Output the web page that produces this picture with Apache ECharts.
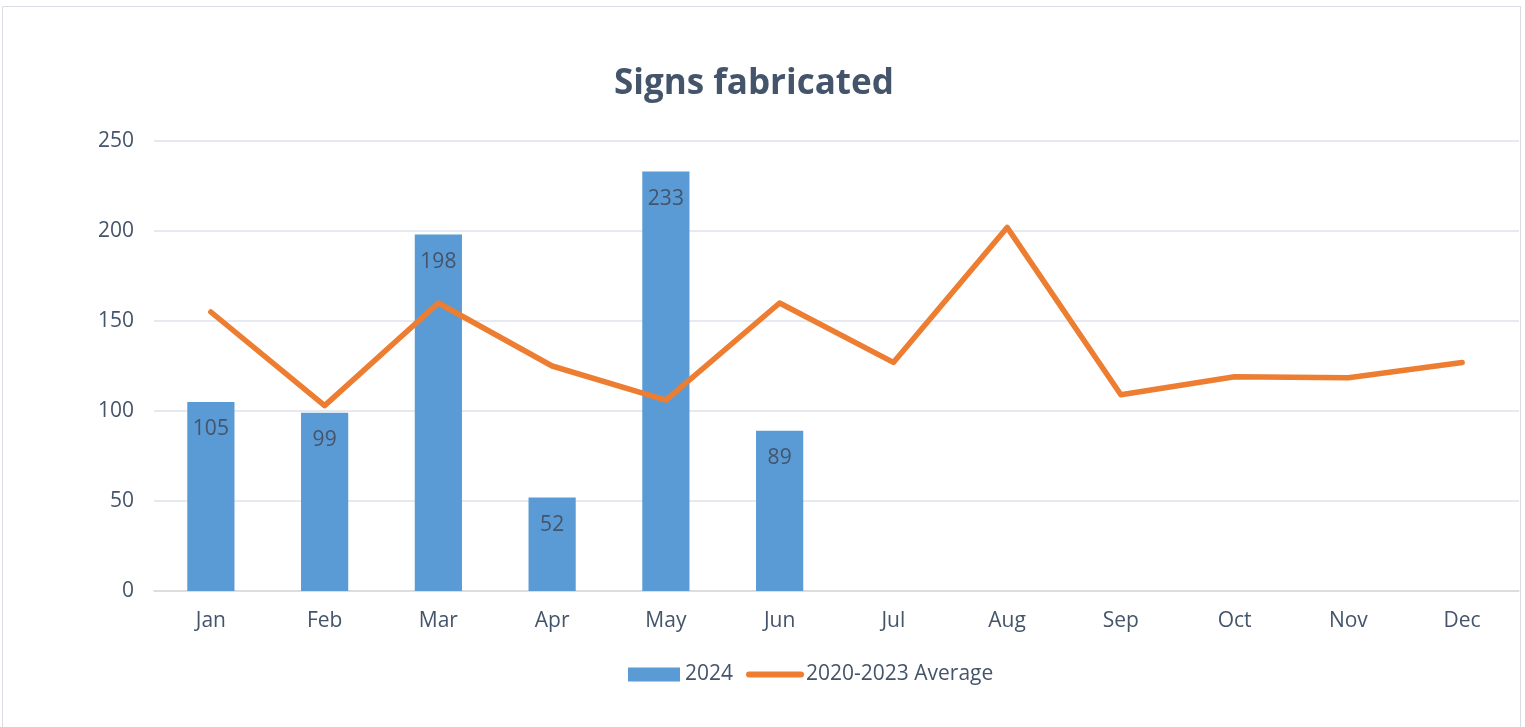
<!DOCTYPE html>
<html>
<head>
<meta charset="utf-8">
<script src="https://cdn.jsdelivr.net/npm/echarts@6/dist/echarts.min.js"></script>
<style>html,body{margin:0;padding:0;background:#fff}#c{width:1525px;height:727px}</style>
</head>
<body>
<div id="c"></div>
<script>
const categories = ['Jan','Feb','Mar','Apr','May','Jun','Jul','Aug','Sep','Oct','Nov','Dec'];
const values2024 = [105, 99, 198, 52, 233, 89];
const avg2020_2023 = [155, 103, 160, 125, 106, 160, 127, 202, 109, 119, 118.5, 127];
const yTicks = [0, 50, 100, 150, 200, 250];
const seriesNames = ['2024', '2020-2023 Average'];
const titleText = 'Signs fabricated';

const FONT = 'Open Sans';
const TXT = '#44546a';
const chart = echarts.init(document.getElementById('c'), null, {renderer: 'canvas'});
chart.setOption({
  animation: false,
  backgroundColor: '#fff',
  textStyle: {fontFamily: FONT},
  graphic: [{
    type: 'rect', shape: {x: 2.5, y: 6.5, width: 1518, height: 740},
    style: {fill: 'none', stroke: '#d9dde3', lineWidth: 1}, silent: true, z: -1
  }],
  title: {
    text: titleText, left: 609, top: 62,
    textStyle: {fontFamily: FONT, fontSize: 35, fontWeight: 'bold', color: TXT}
  },
  legend: {
    data: [
      {name: seriesNames[0], icon: 'rect'},
      {name: seriesNames[1], itemStyle: {opacity: 0}, lineStyle: {width: 6, cap: 'round', color: '#ed7d31'}}
    ],
    bottom: 37, left: 623, itemWidth: 52, itemHeight: 14, itemGap: 13,
    textStyle: {fontFamily: FONT, fontSize: 21, color: TXT}
  },
  grid: {left: 154, right: 6, top: 141, bottom: 136, containLabel: false},
  xAxis: {
    type: 'category', data: categories,
    axisLine: {lineStyle: {color: '#d9d9d9', width: 1.5}},
    axisTick: {show: false},
    axisLabel: {fontFamily: FONT, fontSize: 21, color: TXT, margin: 20}
  },
  yAxis: {
    type: 'value', min: yTicks[0], max: yTicks[yTicks.length-1], interval: 50,
    axisLine: {show: false}, axisTick: {show: false},
    splitLine: {lineStyle: {color: '#dee2ea', width: 1.5}},
    axisLabel: {fontFamily: FONT, fontSize: 21, color: TXT, margin: 20}
  },
  series: [{
    name: seriesNames[0], type: 'bar', data: values2024, barWidth: '41.5%',
    itemStyle: {color: '#5b9bd5'},
    label: {show: true, position: 'insideTop', distance: 17, fontFamily: FONT, fontSize: 21, color: TXT}
  }, {
    name: seriesNames[1], type: 'line', data: avg2020_2023,
    showSymbol: false, symbol: 'none',
    lineStyle: {color: '#ed7d31', width: 5.5, cap: 'round', join: 'round'},
    itemStyle: {color: '#ed7d31'}
  }]
});
</script>
</body>
</html>
